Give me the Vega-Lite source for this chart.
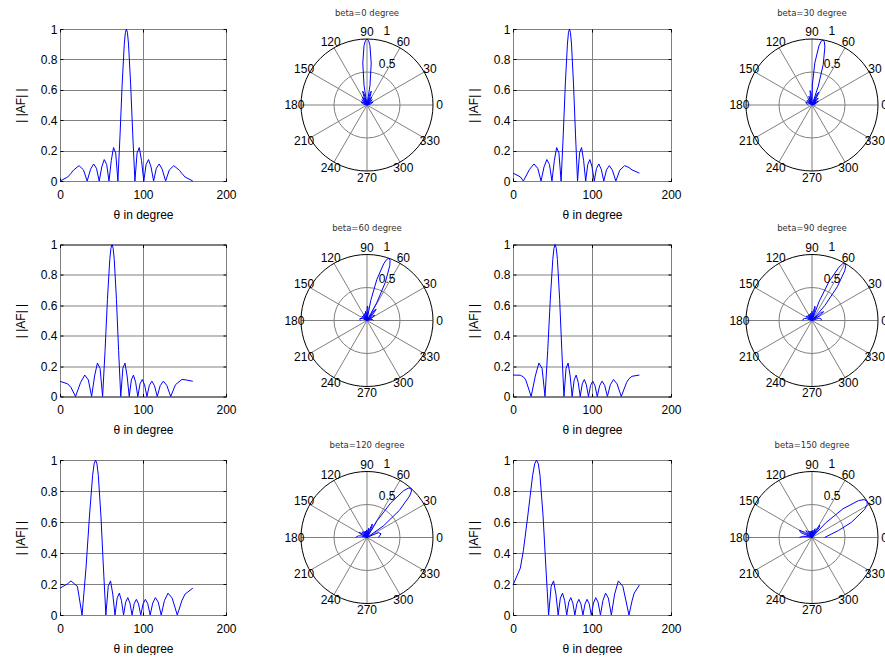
{
"$schema": "https://vega.github.io/schema/vega-lite/v6.json",
"padding": {"left": 13, "top": 8, "right": 0, "bottom": 0},
"datasets": {
"spokes": [
{"x1":1,"y1":0,"x2":-1,"y2":0},
{"x1":0.866,"y1":0.5,"x2":-0.866,"y2":-0.5},
{"x1":0.5,"y1":0.866,"x2":-0.5,"y2":-0.866},
{"x1":0,"y1":1,"x2":0,"y2":-1},
{"x1":-0.5,"y1":0.866,"x2":0.5,"y2":-0.866},
{"x1":-0.866,"y1":0.5,"x2":0.866,"y2":-0.5}
],
"angles": [
{"t":"0","a":0},{"t":"30","a":30},{"t":"60","a":60},{"t":"90","a":90},{"t":"120","a":120},{"t":"150","a":150},
{"t":"180","a":180},{"t":"210","a":210},{"t":"240","a":240},{"t":"270","a":270},{"t":"300","a":300},{"t":"330","a":330}
],
"rlabels": [{"t":"0.5","r":0.5},{"t":"1","r":1}],
"af": [
{"b":0,"x":0,"y":0},{"b":0,"x":9.31,"y":0.026},{"b":0,"x":13.19,"y":0.05},{"b":0,"x":16.17,"y":0.071},{"b":0,"x":22.97,"y":0.101},{"b":0,"x":28.26,"y":0.073},{"b":0,"x":32.77,"y":0},{"b":0,"x":36.81,"y":0.077},{"b":0,"x":40.51,"y":0.112},{"b":0,"x":43.96,"y":0.083},{"b":0,"x":47.23,"y":0},{"b":0,"x":50.34,"y":0.093},{"b":0,"x":53.33,"y":0.141},{"b":0,"x":56.23,"y":0.109},{"b":0,"x":59.04,"y":0},{"b":0,"x":61.79,"y":0.135},{"b":0,"x":64.48,"y":0.22},{"b":0,"x":67.13,"y":0.185},{"b":0,"x":69.75,"y":0},{"b":0,"x":72.33,"y":0.303},{"b":0,"x":74.9,"y":0.639},{"b":0,"x":77.45,"y":0.901},{"b":0,"x":78.73,"y":0.975},{"b":0,"x":80,"y":1},{"b":0,"x":81.27,"y":0.975},{"b":0,"x":82.55,"y":0.901},{"b":0,"x":85.1,"y":0.639},{"b":0,"x":87.67,"y":0.303},{"b":0,"x":90.25,"y":0},{"b":0,"x":92.87,"y":0.185},{"b":0,"x":95.52,"y":0.22},{"b":0,"x":98.21,"y":0.135},{"b":0,"x":100.96,"y":0},{"b":0,"x":103.77,"y":0.109},{"b":0,"x":106.67,"y":0.141},{"b":0,"x":109.66,"y":0.093},{"b":0,"x":112.77,"y":0},{"b":0,"x":116.04,"y":0.083},{"b":0,"x":119.49,"y":0.112},{"b":0,"x":123.19,"y":0.077},{"b":0,"x":127.23,"y":0},{"b":0,"x":131.74,"y":0.073},{"b":0,"x":137.03,"y":0.101},{"b":0,"x":143.83,"y":0.071},{"b":0,"x":146.81,"y":0.05},{"b":0,"x":150.69,"y":0.026},{"b":0,"x":160,"y":0},
{"b":30,"x":0,"y":0.052},{"b":30,"x":9.31,"y":0.027},{"b":30,"x":13.19,"y":0},{"b":30,"x":20.94,"y":0.077},{"b":30,"x":26.6,"y":0.112},{"b":30,"x":31.33,"y":0.083},{"b":30,"x":35.51,"y":0},{"b":30,"x":39.31,"y":0.093},{"b":30,"x":42.84,"y":0.141},{"b":30,"x":46.16,"y":0.109},{"b":30,"x":49.32,"y":0},{"b":30,"x":52.35,"y":0.135},{"b":30,"x":55.27,"y":0.22},{"b":30,"x":58.11,"y":0.185},{"b":30,"x":60.88,"y":0},{"b":30,"x":63.59,"y":0.303},{"b":30,"x":66.25,"y":0.639},{"b":30,"x":68.88,"y":0.901},{"b":30,"x":70.18,"y":0.975},{"b":30,"x":71.47,"y":1},{"b":30,"x":72.76,"y":0.975},{"b":30,"x":74.04,"y":0.901},{"b":30,"x":76.6,"y":0.639},{"b":30,"x":79.15,"y":0.303},{"b":30,"x":81.7,"y":0},{"b":30,"x":84.25,"y":0.185},{"b":30,"x":86.81,"y":0.22},{"b":30,"x":89.39,"y":0.135},{"b":30,"x":91.99,"y":0},{"b":30,"x":94.63,"y":0.109},{"b":30,"x":97.31,"y":0.141},{"b":30,"x":100.04,"y":0.093},{"b":30,"x":102.83,"y":0},{"b":30,"x":105.69,"y":0.083},{"b":30,"x":108.65,"y":0.112},{"b":30,"x":111.72,"y":0.077},{"b":30,"x":114.93,"y":0},{"b":30,"x":118.32,"y":0.073},{"b":30,"x":121.93,"y":0.101},{"b":30,"x":125.84,"y":0.071},{"b":30,"x":130.17,"y":0},{"b":30,"x":135.15,"y":0.071},{"b":30,"x":141.3,"y":0.101},{"b":30,"x":146.81,"y":0.089},{"b":30,"x":150.69,"y":0.073},{"b":30,"x":160,"y":0.052},
{"b":60,"x":0,"y":0.1},{"b":60,"x":9.31,"y":0.083},{"b":60,"x":13.19,"y":0.06},{"b":60,"x":18.7,"y":0},{"b":60,"x":24.85,"y":0.093},{"b":60,"x":29.83,"y":0.141},{"b":60,"x":34.16,"y":0.109},{"b":60,"x":38.07,"y":0},{"b":60,"x":41.68,"y":0.135},{"b":60,"x":45.07,"y":0.22},{"b":60,"x":48.28,"y":0.185},{"b":60,"x":51.35,"y":0},{"b":60,"x":54.31,"y":0.303},{"b":60,"x":57.17,"y":0.639},{"b":60,"x":59.96,"y":0.901},{"b":60,"x":61.34,"y":0.975},{"b":60,"x":62.69,"y":1},{"b":60,"x":64.04,"y":0.975},{"b":60,"x":65.37,"y":0.901},{"b":60,"x":68.01,"y":0.639},{"b":60,"x":70.61,"y":0.303},{"b":60,"x":73.19,"y":0},{"b":60,"x":75.75,"y":0.185},{"b":60,"x":78.3,"y":0.22},{"b":60,"x":80.85,"y":0.135},{"b":60,"x":83.4,"y":0},{"b":60,"x":85.96,"y":0.109},{"b":60,"x":88.53,"y":0.141},{"b":60,"x":91.12,"y":0.093},{"b":60,"x":93.75,"y":0},{"b":60,"x":96.41,"y":0.083},{"b":60,"x":99.12,"y":0.112},{"b":60,"x":101.89,"y":0.077},{"b":60,"x":104.73,"y":0},{"b":60,"x":107.65,"y":0.073},{"b":60,"x":110.68,"y":0.101},{"b":60,"x":113.84,"y":0.071},{"b":60,"x":117.16,"y":0},{"b":60,"x":120.69,"y":0.071},{"b":60,"x":124.49,"y":0.101},{"b":60,"x":128.67,"y":0.073},{"b":60,"x":133.4,"y":0},{"b":60,"x":139.06,"y":0.077},{"b":60,"x":146.81,"y":0.112},{"b":60,"x":150.69,"y":0.11},{"b":60,"x":160,"y":0.1},
{"b":90,"x":0,"y":0.141},{"b":90,"x":9.31,"y":0.14},{"b":90,"x":13.19,"y":0.129},{"b":90,"x":16.17,"y":0.109},{"b":90,"x":22.97,"y":0},{"b":90,"x":28.26,"y":0.135},{"b":90,"x":32.77,"y":0.22},{"b":90,"x":36.81,"y":0.185},{"b":90,"x":40.51,"y":0},{"b":90,"x":43.96,"y":0.303},{"b":90,"x":47.23,"y":0.639},{"b":90,"x":50.34,"y":0.901},{"b":90,"x":51.85,"y":0.975},{"b":90,"x":53.33,"y":1},{"b":90,"x":54.79,"y":0.975},{"b":90,"x":56.23,"y":0.901},{"b":90,"x":59.04,"y":0.639},{"b":90,"x":61.79,"y":0.303},{"b":90,"x":64.48,"y":0},{"b":90,"x":67.13,"y":0.185},{"b":90,"x":69.75,"y":0.22},{"b":90,"x":72.33,"y":0.135},{"b":90,"x":74.9,"y":0},{"b":90,"x":77.45,"y":0.109},{"b":90,"x":80,"y":0.141},{"b":90,"x":82.55,"y":0.093},{"b":90,"x":85.1,"y":0},{"b":90,"x":87.67,"y":0.083},{"b":90,"x":90.25,"y":0.112},{"b":90,"x":92.87,"y":0.077},{"b":90,"x":95.52,"y":0},{"b":90,"x":98.21,"y":0.073},{"b":90,"x":100.96,"y":0.101},{"b":90,"x":103.77,"y":0.071},{"b":90,"x":106.67,"y":0},{"b":90,"x":109.66,"y":0.071},{"b":90,"x":112.77,"y":0.101},{"b":90,"x":116.04,"y":0.073},{"b":90,"x":119.49,"y":0},{"b":90,"x":123.19,"y":0.077},{"b":90,"x":127.23,"y":0.112},{"b":90,"x":131.74,"y":0.083},{"b":90,"x":137.03,"y":0},{"b":90,"x":143.83,"y":0.093},{"b":90,"x":146.81,"y":0.117},{"b":90,"x":150.69,"y":0.133},{"b":90,"x":160,"y":0.141},
{"b":120,"x":0,"y":0.173},{"b":120,"x":9.31,"y":0.202},{"b":120,"x":13.19,"y":0.22},{"b":120,"x":20.94,"y":0.185},{"b":120,"x":26.6,"y":0},{"b":120,"x":31.33,"y":0.303},{"b":120,"x":35.51,"y":0.639},{"b":120,"x":39.31,"y":0.901},{"b":120,"x":41.1,"y":0.975},{"b":120,"x":42.84,"y":1},{"b":120,"x":44.52,"y":0.975},{"b":120,"x":46.16,"y":0.901},{"b":120,"x":49.32,"y":0.639},{"b":120,"x":52.35,"y":0.303},{"b":120,"x":55.27,"y":0},{"b":120,"x":58.11,"y":0.185},{"b":120,"x":60.88,"y":0.22},{"b":120,"x":63.59,"y":0.135},{"b":120,"x":66.25,"y":0},{"b":120,"x":68.88,"y":0.109},{"b":120,"x":71.47,"y":0.141},{"b":120,"x":74.04,"y":0.093},{"b":120,"x":76.6,"y":0},{"b":120,"x":79.15,"y":0.083},{"b":120,"x":81.7,"y":0.112},{"b":120,"x":84.25,"y":0.077},{"b":120,"x":86.81,"y":0},{"b":120,"x":89.39,"y":0.073},{"b":120,"x":91.99,"y":0.101},{"b":120,"x":94.63,"y":0.071},{"b":120,"x":97.31,"y":0},{"b":120,"x":100.04,"y":0.071},{"b":120,"x":102.83,"y":0.101},{"b":120,"x":105.69,"y":0.073},{"b":120,"x":108.65,"y":0},{"b":120,"x":111.72,"y":0.077},{"b":120,"x":114.93,"y":0.112},{"b":120,"x":118.32,"y":0.083},{"b":120,"x":121.93,"y":0},{"b":120,"x":125.84,"y":0.093},{"b":120,"x":130.17,"y":0.141},{"b":120,"x":135.15,"y":0.109},{"b":120,"x":141.3,"y":0},{"b":120,"x":146.81,"y":0.092},{"b":120,"x":150.69,"y":0.135},{"b":120,"x":160,"y":0.173},
{"b":150,"x":0,"y":0.193},{"b":150,"x":9.31,"y":0.303},{"b":150,"x":13.19,"y":0.417},{"b":150,"x":18.7,"y":0.639},{"b":150,"x":24.85,"y":0.901},{"b":150,"x":27.44,"y":0.975},{"b":150,"x":29.83,"y":1},{"b":150,"x":32.06,"y":0.975},{"b":150,"x":34.16,"y":0.901},{"b":150,"x":38.07,"y":0.639},{"b":150,"x":41.68,"y":0.303},{"b":150,"x":45.07,"y":0},{"b":150,"x":48.28,"y":0.185},{"b":150,"x":51.35,"y":0.22},{"b":150,"x":54.31,"y":0.135},{"b":150,"x":57.17,"y":0},{"b":150,"x":59.96,"y":0.109},{"b":150,"x":62.69,"y":0.141},{"b":150,"x":65.37,"y":0.093},{"b":150,"x":68.01,"y":0},{"b":150,"x":70.61,"y":0.083},{"b":150,"x":73.19,"y":0.112},{"b":150,"x":75.75,"y":0.077},{"b":150,"x":78.3,"y":0},{"b":150,"x":80.85,"y":0.073},{"b":150,"x":83.4,"y":0.101},{"b":150,"x":85.96,"y":0.071},{"b":150,"x":88.53,"y":0},{"b":150,"x":91.12,"y":0.071},{"b":150,"x":93.75,"y":0.101},{"b":150,"x":96.41,"y":0.073},{"b":150,"x":99.12,"y":0},{"b":150,"x":101.89,"y":0.077},{"b":150,"x":104.73,"y":0.112},{"b":150,"x":107.65,"y":0.083},{"b":150,"x":110.68,"y":0},{"b":150,"x":113.84,"y":0.093},{"b":150,"x":117.16,"y":0.141},{"b":150,"x":120.69,"y":0.109},{"b":150,"x":124.49,"y":0},{"b":150,"x":128.67,"y":0.135},{"b":150,"x":133.4,"y":0.22},{"b":150,"x":139.06,"y":0.185},{"b":150,"x":146.81,"y":0},{"b":150,"x":150.69,"y":0.091},{"b":150,"x":153.42,"y":0.141},{"b":150,"x":160,"y":0.193}
]
},
"bounds": "flush",
"align": "each",
"columns": 4,
"spacing": {"row": 63.5, "column": 65},
"concat": [
 {"width":166,"height":152,"data":{"name":"af"},"transform":[{"filter":"datum.b == 0"}],
  "layer":[
   {"mark":{"type":"line","color":"#0000ff","strokeWidth":1},
    "encoding":{"x":{"field":"x","type":"quantitative","scale":{"domain":[0,200],"nice":false,"zero":false},"axis":{"values":[0,100,200],"title":"θ in degree","grid":true}},
                "y":{"field":"y","type":"quantitative","scale":{"domain":[0,1],"nice":false},"axis":{"values":[0,0.2,0.4,0.6,0.8,1],"title":"| |AF| |","grid":true,"format":"~g"}}}},
   {"mark":{"type":"line","strokeOpacity":0},
    "encoding":{"x":{"field":"x","type":"quantitative","axis":{"orient":"top","values":[0,100,200],"labels":false,"title":null,"grid":false}},
                "y":{"field":"y","type":"quantitative","axis":{"orient":"right","values":[0,0.2,0.4,0.6,0.8,1],"labels":false,"title":null,"grid":false}}}}
  ],
  "resolve":{"axis":{"x":"independent","y":"independent"}}},
 {"width":157,"height":152,"view":{"stroke":null},"title":{"text":"beta=0 degree","dx":-2.5},
  "layer":[
   {"data":{"name":"spokes"},"mark":{"type":"rule","color":"#808080","strokeWidth":1},
    "encoding":{"x":{"field":"x1","type":"quantitative","scale":{"domain":[-1.15152,1.22727],"nice":false,"zero":false},"axis":null},"y":{"field":"y1","type":"quantitative","scale":{"domain":[-1.15152,1.15152],"nice":false,"zero":false},"axis":null},"x2":{"field":"x2"},"y2":{"field":"y2"}}},
   {"data":{"values":[{"cx":0,"cy":0}]},"mark":{"type":"point","shape":"circle","size":4356,"filled":false,"stroke":"#808080","strokeWidth":1,"opacity":1},
    "encoding":{"x":{"field":"cx","type":"quantitative","axis":null},"y":{"field":"cy","type":"quantitative","axis":null}}},
   {"data":{"values":[{"cx":0,"cy":0}]},"mark":{"type":"point","shape":"circle","size":17424,"filled":false,"stroke":"#000000","strokeWidth":1,"opacity":1},
    "encoding":{"x":{"field":"cx","type":"quantitative","axis":null},"y":{"field":"cy","type":"quantitative","axis":null}}},
   {"data":{"name":"angles"},"transform":[{"calculate":"1.1*cos(datum.a*PI/180)","as":"lx"},{"calculate":"1.1*sin(datum.a*PI/180)","as":"ly"}],
    "mark":{"type":"text","font":"Liberation Sans","fontSize":12,"color":"#000","align":"center","baseline":"middle"},
    "encoding":{"x":{"field":"lx","type":"quantitative","axis":null},"y":{"field":"ly","type":"quantitative","axis":null},"text":{"field":"t"}}},
   {"data":{"name":"rlabels"},"transform":[{"calculate":"(datum.r+0.025)*cos(82*PI/180)","as":"lx"},{"calculate":"(datum.r+0.025)*sin(82*PI/180)","as":"ly"}],
    "mark":{"type":"text","font":"Liberation Sans","fontSize":12,"color":"#000","align":"left","baseline":"bottom","dx":7},
    "encoding":{"x":{"field":"lx","type":"quantitative","axis":null},"y":{"field":"ly","type":"quantitative","axis":null},"text":{"field":"t"}}},
   {"data":{"name":"af"},"transform":[{"filter":"datum.b == 0"},{"calculate":"datum.y*cos(datum.x*1.125*PI/180)","as":"px"},{"calculate":"datum.y*sin(datum.x*1.125*PI/180)","as":"py"}],
    "mark":{"type":"line","color":"#0000ff","strokeWidth":1},
    "encoding":{"x":{"field":"px","type":"quantitative","axis":null},"y":{"field":"py","type":"quantitative","axis":null},"order":{"field":"x","type":"quantitative"}}}
  ]},
 {"width":158,"height":152,"data":{"name":"af"},"transform":[{"filter":"datum.b == 30"}],
  "layer":[
   {"mark":{"type":"line","color":"#0000ff","strokeWidth":1},
    "encoding":{"x":{"field":"x","type":"quantitative","scale":{"domain":[0,200],"nice":false,"zero":false},"axis":{"values":[0,100,200],"title":"θ in degree","grid":true}},
                "y":{"field":"y","type":"quantitative","scale":{"domain":[0,1],"nice":false},"axis":{"values":[0,0.2,0.4,0.6,0.8,1],"title":"| |AF| |","grid":true,"format":"~g"}}}},
   {"mark":{"type":"line","strokeOpacity":0},
    "encoding":{"x":{"field":"x","type":"quantitative","axis":{"orient":"top","values":[0,100,200],"labels":false,"title":null,"grid":false}},
                "y":{"field":"y","type":"quantitative","axis":{"orient":"right","values":[0,0.2,0.4,0.6,0.8,1],"labels":false,"title":null,"grid":false}}}}
  ],
  "resolve":{"axis":{"x":"independent","y":"independent"}}},
 {"width":157,"height":152,"view":{"stroke":null},"title":{"text":"beta=30 degree","dx":-2.5},
  "layer":[
   {"data":{"name":"spokes"},"mark":{"type":"rule","color":"#808080","strokeWidth":1},
    "encoding":{"x":{"field":"x1","type":"quantitative","scale":{"domain":[-1.15152,1.22727],"nice":false,"zero":false},"axis":null},"y":{"field":"y1","type":"quantitative","scale":{"domain":[-1.15152,1.15152],"nice":false,"zero":false},"axis":null},"x2":{"field":"x2"},"y2":{"field":"y2"}}},
   {"data":{"values":[{"cx":0,"cy":0}]},"mark":{"type":"point","shape":"circle","size":4356,"filled":false,"stroke":"#808080","strokeWidth":1,"opacity":1},
    "encoding":{"x":{"field":"cx","type":"quantitative","axis":null},"y":{"field":"cy","type":"quantitative","axis":null}}},
   {"data":{"values":[{"cx":0,"cy":0}]},"mark":{"type":"point","shape":"circle","size":17424,"filled":false,"stroke":"#000000","strokeWidth":1,"opacity":1},
    "encoding":{"x":{"field":"cx","type":"quantitative","axis":null},"y":{"field":"cy","type":"quantitative","axis":null}}},
   {"data":{"name":"angles"},"transform":[{"calculate":"1.1*cos(datum.a*PI/180)","as":"lx"},{"calculate":"1.1*sin(datum.a*PI/180)","as":"ly"}],
    "mark":{"type":"text","font":"Liberation Sans","fontSize":12,"color":"#000","align":"center","baseline":"middle"},
    "encoding":{"x":{"field":"lx","type":"quantitative","axis":null},"y":{"field":"ly","type":"quantitative","axis":null},"text":{"field":"t"}}},
   {"data":{"name":"rlabels"},"transform":[{"calculate":"(datum.r+0.025)*cos(82*PI/180)","as":"lx"},{"calculate":"(datum.r+0.025)*sin(82*PI/180)","as":"ly"}],
    "mark":{"type":"text","font":"Liberation Sans","fontSize":12,"color":"#000","align":"left","baseline":"bottom","dx":7},
    "encoding":{"x":{"field":"lx","type":"quantitative","axis":null},"y":{"field":"ly","type":"quantitative","axis":null},"text":{"field":"t"}}},
   {"data":{"name":"af"},"transform":[{"filter":"datum.b == 30"},{"calculate":"datum.y*cos(datum.x*1.125*PI/180)","as":"px"},{"calculate":"datum.y*sin(datum.x*1.125*PI/180)","as":"py"}],
    "mark":{"type":"line","color":"#0000ff","strokeWidth":1},
    "encoding":{"x":{"field":"px","type":"quantitative","axis":null},"y":{"field":"py","type":"quantitative","axis":null},"order":{"field":"x","type":"quantitative"}}}
  ]},
 {"width":166,"height":152,"data":{"name":"af"},"transform":[{"filter":"datum.b == 60"}],
  "layer":[
   {"mark":{"type":"line","color":"#0000ff","strokeWidth":1},
    "encoding":{"x":{"field":"x","type":"quantitative","scale":{"domain":[0,200],"nice":false,"zero":false},"axis":{"values":[0,100,200],"title":"θ in degree","grid":true}},
                "y":{"field":"y","type":"quantitative","scale":{"domain":[0,1],"nice":false},"axis":{"values":[0,0.2,0.4,0.6,0.8,1],"title":"| |AF| |","grid":true,"format":"~g"}}}},
   {"mark":{"type":"line","strokeOpacity":0},
    "encoding":{"x":{"field":"x","type":"quantitative","axis":{"orient":"top","values":[0,100,200],"labels":false,"title":null,"grid":false}},
                "y":{"field":"y","type":"quantitative","axis":{"orient":"right","values":[0,0.2,0.4,0.6,0.8,1],"labels":false,"title":null,"grid":false}}}}
  ],
  "resolve":{"axis":{"x":"independent","y":"independent"}}},
 {"width":157,"height":152,"view":{"stroke":null},"title":{"text":"beta=60 degree","dx":-2.5},
  "layer":[
   {"data":{"name":"spokes"},"mark":{"type":"rule","color":"#808080","strokeWidth":1},
    "encoding":{"x":{"field":"x1","type":"quantitative","scale":{"domain":[-1.15152,1.22727],"nice":false,"zero":false},"axis":null},"y":{"field":"y1","type":"quantitative","scale":{"domain":[-1.15152,1.15152],"nice":false,"zero":false},"axis":null},"x2":{"field":"x2"},"y2":{"field":"y2"}}},
   {"data":{"values":[{"cx":0,"cy":0}]},"mark":{"type":"point","shape":"circle","size":4356,"filled":false,"stroke":"#808080","strokeWidth":1,"opacity":1},
    "encoding":{"x":{"field":"cx","type":"quantitative","axis":null},"y":{"field":"cy","type":"quantitative","axis":null}}},
   {"data":{"values":[{"cx":0,"cy":0}]},"mark":{"type":"point","shape":"circle","size":17424,"filled":false,"stroke":"#000000","strokeWidth":1,"opacity":1},
    "encoding":{"x":{"field":"cx","type":"quantitative","axis":null},"y":{"field":"cy","type":"quantitative","axis":null}}},
   {"data":{"name":"angles"},"transform":[{"calculate":"1.1*cos(datum.a*PI/180)","as":"lx"},{"calculate":"1.1*sin(datum.a*PI/180)","as":"ly"}],
    "mark":{"type":"text","font":"Liberation Sans","fontSize":12,"color":"#000","align":"center","baseline":"middle"},
    "encoding":{"x":{"field":"lx","type":"quantitative","axis":null},"y":{"field":"ly","type":"quantitative","axis":null},"text":{"field":"t"}}},
   {"data":{"name":"rlabels"},"transform":[{"calculate":"(datum.r+0.025)*cos(82*PI/180)","as":"lx"},{"calculate":"(datum.r+0.025)*sin(82*PI/180)","as":"ly"}],
    "mark":{"type":"text","font":"Liberation Sans","fontSize":12,"color":"#000","align":"left","baseline":"bottom","dx":7},
    "encoding":{"x":{"field":"lx","type":"quantitative","axis":null},"y":{"field":"ly","type":"quantitative","axis":null},"text":{"field":"t"}}},
   {"data":{"name":"af"},"transform":[{"filter":"datum.b == 60"},{"calculate":"datum.y*cos(datum.x*1.125*PI/180)","as":"px"},{"calculate":"datum.y*sin(datum.x*1.125*PI/180)","as":"py"}],
    "mark":{"type":"line","color":"#0000ff","strokeWidth":1},
    "encoding":{"x":{"field":"px","type":"quantitative","axis":null},"y":{"field":"py","type":"quantitative","axis":null},"order":{"field":"x","type":"quantitative"}}}
  ]},
 {"width":158,"height":152,"data":{"name":"af"},"transform":[{"filter":"datum.b == 90"}],
  "layer":[
   {"mark":{"type":"line","color":"#0000ff","strokeWidth":1},
    "encoding":{"x":{"field":"x","type":"quantitative","scale":{"domain":[0,200],"nice":false,"zero":false},"axis":{"values":[0,100,200],"title":"θ in degree","grid":true}},
                "y":{"field":"y","type":"quantitative","scale":{"domain":[0,1],"nice":false},"axis":{"values":[0,0.2,0.4,0.6,0.8,1],"title":"| |AF| |","grid":true,"format":"~g"}}}},
   {"mark":{"type":"line","strokeOpacity":0},
    "encoding":{"x":{"field":"x","type":"quantitative","axis":{"orient":"top","values":[0,100,200],"labels":false,"title":null,"grid":false}},
                "y":{"field":"y","type":"quantitative","axis":{"orient":"right","values":[0,0.2,0.4,0.6,0.8,1],"labels":false,"title":null,"grid":false}}}}
  ],
  "resolve":{"axis":{"x":"independent","y":"independent"}}},
 {"width":157,"height":152,"view":{"stroke":null},"title":{"text":"beta=90 degree","dx":-2.5},
  "layer":[
   {"data":{"name":"spokes"},"mark":{"type":"rule","color":"#808080","strokeWidth":1},
    "encoding":{"x":{"field":"x1","type":"quantitative","scale":{"domain":[-1.15152,1.22727],"nice":false,"zero":false},"axis":null},"y":{"field":"y1","type":"quantitative","scale":{"domain":[-1.15152,1.15152],"nice":false,"zero":false},"axis":null},"x2":{"field":"x2"},"y2":{"field":"y2"}}},
   {"data":{"values":[{"cx":0,"cy":0}]},"mark":{"type":"point","shape":"circle","size":4356,"filled":false,"stroke":"#808080","strokeWidth":1,"opacity":1},
    "encoding":{"x":{"field":"cx","type":"quantitative","axis":null},"y":{"field":"cy","type":"quantitative","axis":null}}},
   {"data":{"values":[{"cx":0,"cy":0}]},"mark":{"type":"point","shape":"circle","size":17424,"filled":false,"stroke":"#000000","strokeWidth":1,"opacity":1},
    "encoding":{"x":{"field":"cx","type":"quantitative","axis":null},"y":{"field":"cy","type":"quantitative","axis":null}}},
   {"data":{"name":"angles"},"transform":[{"calculate":"1.1*cos(datum.a*PI/180)","as":"lx"},{"calculate":"1.1*sin(datum.a*PI/180)","as":"ly"}],
    "mark":{"type":"text","font":"Liberation Sans","fontSize":12,"color":"#000","align":"center","baseline":"middle"},
    "encoding":{"x":{"field":"lx","type":"quantitative","axis":null},"y":{"field":"ly","type":"quantitative","axis":null},"text":{"field":"t"}}},
   {"data":{"name":"rlabels"},"transform":[{"calculate":"(datum.r+0.025)*cos(82*PI/180)","as":"lx"},{"calculate":"(datum.r+0.025)*sin(82*PI/180)","as":"ly"}],
    "mark":{"type":"text","font":"Liberation Sans","fontSize":12,"color":"#000","align":"left","baseline":"bottom","dx":7},
    "encoding":{"x":{"field":"lx","type":"quantitative","axis":null},"y":{"field":"ly","type":"quantitative","axis":null},"text":{"field":"t"}}},
   {"data":{"name":"af"},"transform":[{"filter":"datum.b == 90"},{"calculate":"datum.y*cos(datum.x*1.125*PI/180)","as":"px"},{"calculate":"datum.y*sin(datum.x*1.125*PI/180)","as":"py"}],
    "mark":{"type":"line","color":"#0000ff","strokeWidth":1},
    "encoding":{"x":{"field":"px","type":"quantitative","axis":null},"y":{"field":"py","type":"quantitative","axis":null},"order":{"field":"x","type":"quantitative"}}}
  ]},
 {"width":166,"height":155,"data":{"name":"af"},"transform":[{"filter":"datum.b == 120"}],
  "layer":[
   {"mark":{"type":"line","color":"#0000ff","strokeWidth":1},
    "encoding":{"x":{"field":"x","type":"quantitative","scale":{"domain":[0,200],"nice":false,"zero":false},"axis":{"values":[0,100,200],"title":"θ in degree","grid":true}},
                "y":{"field":"y","type":"quantitative","scale":{"domain":[0,1],"nice":false},"axis":{"values":[0,0.2,0.4,0.6,0.8,1],"title":"| |AF| |","grid":true,"format":"~g"}}}},
   {"mark":{"type":"line","strokeOpacity":0},
    "encoding":{"x":{"field":"x","type":"quantitative","axis":{"orient":"top","values":[0,100,200],"labels":false,"title":null,"grid":false}},
                "y":{"field":"y","type":"quantitative","axis":{"orient":"right","values":[0,0.2,0.4,0.6,0.8,1],"labels":false,"title":null,"grid":false}}}}
  ],
  "resolve":{"axis":{"x":"independent","y":"independent"}}},
 {"width":157,"height":155,"view":{"stroke":null},"title":{"text":"beta=120 degree","dx":-2.5},
  "layer":[
   {"data":{"name":"spokes"},"mark":{"type":"rule","color":"#808080","strokeWidth":1},
    "encoding":{"x":{"field":"x1","type":"quantitative","scale":{"domain":[-1.15152,1.22727],"nice":false,"zero":false},"axis":null},"y":{"field":"y1","type":"quantitative","scale":{"domain":[-1.17424,1.17424],"nice":false,"zero":false},"axis":null},"x2":{"field":"x2"},"y2":{"field":"y2"}}},
   {"data":{"values":[{"cx":0,"cy":0}]},"mark":{"type":"point","shape":"circle","size":4356,"filled":false,"stroke":"#808080","strokeWidth":1,"opacity":1},
    "encoding":{"x":{"field":"cx","type":"quantitative","axis":null},"y":{"field":"cy","type":"quantitative","axis":null}}},
   {"data":{"values":[{"cx":0,"cy":0}]},"mark":{"type":"point","shape":"circle","size":17424,"filled":false,"stroke":"#000000","strokeWidth":1,"opacity":1},
    "encoding":{"x":{"field":"cx","type":"quantitative","axis":null},"y":{"field":"cy","type":"quantitative","axis":null}}},
   {"data":{"name":"angles"},"transform":[{"calculate":"1.1*cos(datum.a*PI/180)","as":"lx"},{"calculate":"1.1*sin(datum.a*PI/180)","as":"ly"}],
    "mark":{"type":"text","font":"Liberation Sans","fontSize":12,"color":"#000","align":"center","baseline":"middle"},
    "encoding":{"x":{"field":"lx","type":"quantitative","axis":null},"y":{"field":"ly","type":"quantitative","axis":null},"text":{"field":"t"}}},
   {"data":{"name":"rlabels"},"transform":[{"calculate":"(datum.r+0.025)*cos(82*PI/180)","as":"lx"},{"calculate":"(datum.r+0.025)*sin(82*PI/180)","as":"ly"}],
    "mark":{"type":"text","font":"Liberation Sans","fontSize":12,"color":"#000","align":"left","baseline":"bottom","dx":7},
    "encoding":{"x":{"field":"lx","type":"quantitative","axis":null},"y":{"field":"ly","type":"quantitative","axis":null},"text":{"field":"t"}}},
   {"data":{"name":"af"},"transform":[{"filter":"datum.b == 120"},{"calculate":"datum.y*cos(datum.x*1.125*PI/180)","as":"px"},{"calculate":"datum.y*sin(datum.x*1.125*PI/180)","as":"py"}],
    "mark":{"type":"line","color":"#0000ff","strokeWidth":1},
    "encoding":{"x":{"field":"px","type":"quantitative","axis":null},"y":{"field":"py","type":"quantitative","axis":null},"order":{"field":"x","type":"quantitative"}}}
  ]},
 {"width":158,"height":155,"data":{"name":"af"},"transform":[{"filter":"datum.b == 150"}],
  "layer":[
   {"mark":{"type":"line","color":"#0000ff","strokeWidth":1},
    "encoding":{"x":{"field":"x","type":"quantitative","scale":{"domain":[0,200],"nice":false,"zero":false},"axis":{"values":[0,100,200],"title":"θ in degree","grid":true}},
                "y":{"field":"y","type":"quantitative","scale":{"domain":[0,1],"nice":false},"axis":{"values":[0,0.2,0.4,0.6,0.8,1],"title":"| |AF| |","grid":true,"format":"~g"}}}},
   {"mark":{"type":"line","strokeOpacity":0},
    "encoding":{"x":{"field":"x","type":"quantitative","axis":{"orient":"top","values":[0,100,200],"labels":false,"title":null,"grid":false}},
                "y":{"field":"y","type":"quantitative","axis":{"orient":"right","values":[0,0.2,0.4,0.6,0.8,1],"labels":false,"title":null,"grid":false}}}}
  ],
  "resolve":{"axis":{"x":"independent","y":"independent"}}},
 {"width":157,"height":155,"view":{"stroke":null},"title":{"text":"beta=150 degree","dx":-2.5},
  "layer":[
   {"data":{"name":"spokes"},"mark":{"type":"rule","color":"#808080","strokeWidth":1},
    "encoding":{"x":{"field":"x1","type":"quantitative","scale":{"domain":[-1.15152,1.22727],"nice":false,"zero":false},"axis":null},"y":{"field":"y1","type":"quantitative","scale":{"domain":[-1.17424,1.17424],"nice":false,"zero":false},"axis":null},"x2":{"field":"x2"},"y2":{"field":"y2"}}},
   {"data":{"values":[{"cx":0,"cy":0}]},"mark":{"type":"point","shape":"circle","size":4356,"filled":false,"stroke":"#808080","strokeWidth":1,"opacity":1},
    "encoding":{"x":{"field":"cx","type":"quantitative","axis":null},"y":{"field":"cy","type":"quantitative","axis":null}}},
   {"data":{"values":[{"cx":0,"cy":0}]},"mark":{"type":"point","shape":"circle","size":17424,"filled":false,"stroke":"#000000","strokeWidth":1,"opacity":1},
    "encoding":{"x":{"field":"cx","type":"quantitative","axis":null},"y":{"field":"cy","type":"quantitative","axis":null}}},
   {"data":{"name":"angles"},"transform":[{"calculate":"1.1*cos(datum.a*PI/180)","as":"lx"},{"calculate":"1.1*sin(datum.a*PI/180)","as":"ly"}],
    "mark":{"type":"text","font":"Liberation Sans","fontSize":12,"color":"#000","align":"center","baseline":"middle"},
    "encoding":{"x":{"field":"lx","type":"quantitative","axis":null},"y":{"field":"ly","type":"quantitative","axis":null},"text":{"field":"t"}}},
   {"data":{"name":"rlabels"},"transform":[{"calculate":"(datum.r+0.025)*cos(82*PI/180)","as":"lx"},{"calculate":"(datum.r+0.025)*sin(82*PI/180)","as":"ly"}],
    "mark":{"type":"text","font":"Liberation Sans","fontSize":12,"color":"#000","align":"left","baseline":"bottom","dx":7},
    "encoding":{"x":{"field":"lx","type":"quantitative","axis":null},"y":{"field":"ly","type":"quantitative","axis":null},"text":{"field":"t"}}},
   {"data":{"name":"af"},"transform":[{"filter":"datum.b == 150"},{"calculate":"datum.y*cos(datum.x*1.125*PI/180)","as":"px"},{"calculate":"datum.y*sin(datum.x*1.125*PI/180)","as":"py"}],
    "mark":{"type":"line","color":"#0000ff","strokeWidth":1},
    "encoding":{"x":{"field":"px","type":"quantitative","axis":null},"y":{"field":"py","type":"quantitative","axis":null},"order":{"field":"x","type":"quantitative"}}}
  ]}
],
"config": {
 "view": {"stroke": "#000000", "strokeWidth": 1},
 "axis": {"domain": false, "labelFont": "Liberation Sans", "labelFontSize": 12, "labelColor": "#000", "titleFont": "Liberation Sans", "titleFontSize": 12, "titleFontWeight": "normal", "titleColor": "#000", "tickColor": "#000", "tickSize": -3, "tickWidth": 1, "gridColor": "#808080", "gridOpacity": 1, "gridWidth": 1, "labelFlush": false, "labelOverlap": false},
 "axisX": {"labelPadding": 11, "titlePadding": 9},
 "axisY": {"labelPadding": 6, "titlePadding": 13},
 "title": {"font": "DejaVu Sans", "fontSize": 8.5, "fontWeight": "normal", "color": "#333", "anchor": "middle", "frame": "group", "offset": 8}
}
}
